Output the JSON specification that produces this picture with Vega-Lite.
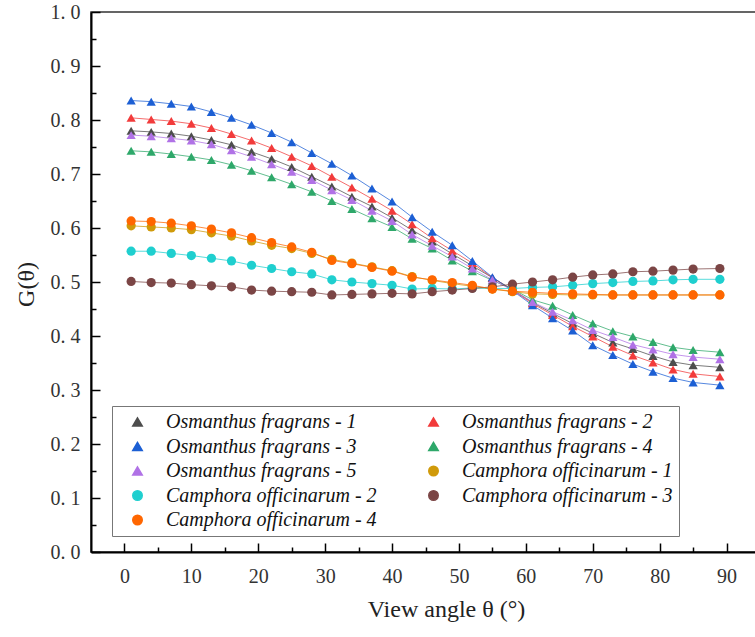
{
"$schema": "https://vega.github.io/schema/vega-lite/v6.json",
"width": 669, "height": 540,
"autosize": {"type": "none"},
"padding": {"left": 91, "top": 12, "right": 0, "bottom": 85},
"background": "white",
"config": {"view": {"stroke": "#333", "strokeWidth": 1.5}, "font": "Liberation Serif, Times New Roman, serif"},
"datasets": {"g": [
{"series":"Osmanthus fragrans - 1","angle":1,"G":0.780},{"series":"Osmanthus fragrans - 1","angle":4,"G":0.778},{"series":"Osmanthus fragrans - 1","angle":7,"G":0.775},{"series":"Osmanthus fragrans - 1","angle":10,"G":0.770},{"series":"Osmanthus fragrans - 1","angle":13,"G":0.763},{"series":"Osmanthus fragrans - 1","angle":16,"G":0.754},{"series":"Osmanthus fragrans - 1","angle":19,"G":0.741},{"series":"Osmanthus fragrans - 1","angle":22,"G":0.728},{"series":"Osmanthus fragrans - 1","angle":25,"G":0.713},{"series":"Osmanthus fragrans - 1","angle":28,"G":0.695},{"series":"Osmanthus fragrans - 1","angle":31,"G":0.677},{"series":"Osmanthus fragrans - 1","angle":34,"G":0.658},{"series":"Osmanthus fragrans - 1","angle":37,"G":0.640},{"series":"Osmanthus fragrans - 1","angle":40,"G":0.619},{"series":"Osmanthus fragrans - 1","angle":43,"G":0.596},{"series":"Osmanthus fragrans - 1","angle":46,"G":0.575},{"series":"Osmanthus fragrans - 1","angle":49,"G":0.552},{"series":"Osmanthus fragrans - 1","angle":52,"G":0.530},{"series":"Osmanthus fragrans - 1","angle":55,"G":0.508},{"series":"Osmanthus fragrans - 1","angle":58,"G":0.486},{"series":"Osmanthus fragrans - 1","angle":61,"G":0.462},{"series":"Osmanthus fragrans - 1","angle":64,"G":0.442},{"series":"Osmanthus fragrans - 1","angle":67,"G":0.423},{"series":"Osmanthus fragrans - 1","angle":70,"G":0.405},{"series":"Osmanthus fragrans - 1","angle":73,"G":0.388},{"series":"Osmanthus fragrans - 1","angle":76,"G":0.376},{"series":"Osmanthus fragrans - 1","angle":79,"G":0.363},{"series":"Osmanthus fragrans - 1","angle":82,"G":0.352},{"series":"Osmanthus fragrans - 1","angle":85,"G":0.346},{"series":"Osmanthus fragrans - 1","angle":89,"G":0.342},
{"series":"Osmanthus fragrans - 2","angle":1,"G":0.804},{"series":"Osmanthus fragrans - 2","angle":4,"G":0.801},{"series":"Osmanthus fragrans - 2","angle":7,"G":0.798},{"series":"Osmanthus fragrans - 2","angle":10,"G":0.793},{"series":"Osmanthus fragrans - 2","angle":13,"G":0.785},{"series":"Osmanthus fragrans - 2","angle":16,"G":0.774},{"series":"Osmanthus fragrans - 2","angle":19,"G":0.762},{"series":"Osmanthus fragrans - 2","angle":22,"G":0.748},{"series":"Osmanthus fragrans - 2","angle":25,"G":0.732},{"series":"Osmanthus fragrans - 2","angle":28,"G":0.715},{"series":"Osmanthus fragrans - 2","angle":31,"G":0.695},{"series":"Osmanthus fragrans - 2","angle":34,"G":0.675},{"series":"Osmanthus fragrans - 2","angle":37,"G":0.654},{"series":"Osmanthus fragrans - 2","angle":40,"G":0.632},{"series":"Osmanthus fragrans - 2","angle":43,"G":0.607},{"series":"Osmanthus fragrans - 2","angle":46,"G":0.581},{"series":"Osmanthus fragrans - 2","angle":49,"G":0.558},{"series":"Osmanthus fragrans - 2","angle":52,"G":0.535},{"series":"Osmanthus fragrans - 2","angle":55,"G":0.508},{"series":"Osmanthus fragrans - 2","angle":58,"G":0.485},{"series":"Osmanthus fragrans - 2","angle":61,"G":0.460},{"series":"Osmanthus fragrans - 2","angle":64,"G":0.439},{"series":"Osmanthus fragrans - 2","angle":67,"G":0.418},{"series":"Osmanthus fragrans - 2","angle":70,"G":0.399},{"series":"Osmanthus fragrans - 2","angle":73,"G":0.380},{"series":"Osmanthus fragrans - 2","angle":76,"G":0.364},{"series":"Osmanthus fragrans - 2","angle":79,"G":0.351},{"series":"Osmanthus fragrans - 2","angle":82,"G":0.338},{"series":"Osmanthus fragrans - 2","angle":85,"G":0.330},{"series":"Osmanthus fragrans - 2","angle":89,"G":0.325},
{"series":"Osmanthus fragrans - 3","angle":1,"G":0.836},{"series":"Osmanthus fragrans - 3","angle":4,"G":0.834},{"series":"Osmanthus fragrans - 3","angle":7,"G":0.830},{"series":"Osmanthus fragrans - 3","angle":10,"G":0.825},{"series":"Osmanthus fragrans - 3","angle":13,"G":0.815},{"series":"Osmanthus fragrans - 3","angle":16,"G":0.804},{"series":"Osmanthus fragrans - 3","angle":19,"G":0.791},{"series":"Osmanthus fragrans - 3","angle":22,"G":0.776},{"series":"Osmanthus fragrans - 3","angle":25,"G":0.759},{"series":"Osmanthus fragrans - 3","angle":28,"G":0.739},{"series":"Osmanthus fragrans - 3","angle":31,"G":0.719},{"series":"Osmanthus fragrans - 3","angle":34,"G":0.697},{"series":"Osmanthus fragrans - 3","angle":37,"G":0.673},{"series":"Osmanthus fragrans - 3","angle":40,"G":0.649},{"series":"Osmanthus fragrans - 3","angle":43,"G":0.620},{"series":"Osmanthus fragrans - 3","angle":46,"G":0.593},{"series":"Osmanthus fragrans - 3","angle":49,"G":0.568},{"series":"Osmanthus fragrans - 3","angle":52,"G":0.539},{"series":"Osmanthus fragrans - 3","angle":55,"G":0.509},{"series":"Osmanthus fragrans - 3","angle":58,"G":0.484},{"series":"Osmanthus fragrans - 3","angle":61,"G":0.457},{"series":"Osmanthus fragrans - 3","angle":64,"G":0.433},{"series":"Osmanthus fragrans - 3","angle":67,"G":0.410},{"series":"Osmanthus fragrans - 3","angle":70,"G":0.383},{"series":"Osmanthus fragrans - 3","angle":73,"G":0.365},{"series":"Osmanthus fragrans - 3","angle":76,"G":0.348},{"series":"Osmanthus fragrans - 3","angle":79,"G":0.334},{"series":"Osmanthus fragrans - 3","angle":82,"G":0.322},{"series":"Osmanthus fragrans - 3","angle":85,"G":0.314},{"series":"Osmanthus fragrans - 3","angle":89,"G":0.309},
{"series":"Osmanthus fragrans - 4","angle":1,"G":0.743},{"series":"Osmanthus fragrans - 4","angle":4,"G":0.741},{"series":"Osmanthus fragrans - 4","angle":7,"G":0.737},{"series":"Osmanthus fragrans - 4","angle":10,"G":0.732},{"series":"Osmanthus fragrans - 4","angle":13,"G":0.726},{"series":"Osmanthus fragrans - 4","angle":16,"G":0.717},{"series":"Osmanthus fragrans - 4","angle":19,"G":0.706},{"series":"Osmanthus fragrans - 4","angle":22,"G":0.694},{"series":"Osmanthus fragrans - 4","angle":25,"G":0.681},{"series":"Osmanthus fragrans - 4","angle":28,"G":0.667},{"series":"Osmanthus fragrans - 4","angle":31,"G":0.650},{"series":"Osmanthus fragrans - 4","angle":34,"G":0.635},{"series":"Osmanthus fragrans - 4","angle":37,"G":0.618},{"series":"Osmanthus fragrans - 4","angle":40,"G":0.602},{"series":"Osmanthus fragrans - 4","angle":43,"G":0.580},{"series":"Osmanthus fragrans - 4","angle":46,"G":0.562},{"series":"Osmanthus fragrans - 4","angle":49,"G":0.540},{"series":"Osmanthus fragrans - 4","angle":52,"G":0.520},{"series":"Osmanthus fragrans - 4","angle":55,"G":0.503},{"series":"Osmanthus fragrans - 4","angle":58,"G":0.487},{"series":"Osmanthus fragrans - 4","angle":61,"G":0.467},{"series":"Osmanthus fragrans - 4","angle":64,"G":0.456},{"series":"Osmanthus fragrans - 4","angle":67,"G":0.439},{"series":"Osmanthus fragrans - 4","angle":70,"G":0.423},{"series":"Osmanthus fragrans - 4","angle":73,"G":0.409},{"series":"Osmanthus fragrans - 4","angle":76,"G":0.399},{"series":"Osmanthus fragrans - 4","angle":79,"G":0.389},{"series":"Osmanthus fragrans - 4","angle":82,"G":0.379},{"series":"Osmanthus fragrans - 4","angle":85,"G":0.374},{"series":"Osmanthus fragrans - 4","angle":89,"G":0.370},
{"series":"Osmanthus fragrans - 5","angle":1,"G":0.772},{"series":"Osmanthus fragrans - 5","angle":4,"G":0.770},{"series":"Osmanthus fragrans - 5","angle":7,"G":0.766},{"series":"Osmanthus fragrans - 5","angle":10,"G":0.762},{"series":"Osmanthus fragrans - 5","angle":13,"G":0.755},{"series":"Osmanthus fragrans - 5","angle":16,"G":0.744},{"series":"Osmanthus fragrans - 5","angle":19,"G":0.732},{"series":"Osmanthus fragrans - 5","angle":22,"G":0.718},{"series":"Osmanthus fragrans - 5","angle":25,"G":0.704},{"series":"Osmanthus fragrans - 5","angle":28,"G":0.689},{"series":"Osmanthus fragrans - 5","angle":31,"G":0.670},{"series":"Osmanthus fragrans - 5","angle":34,"G":0.652},{"series":"Osmanthus fragrans - 5","angle":37,"G":0.632},{"series":"Osmanthus fragrans - 5","angle":40,"G":0.613},{"series":"Osmanthus fragrans - 5","angle":43,"G":0.588},{"series":"Osmanthus fragrans - 5","angle":46,"G":0.567},{"series":"Osmanthus fragrans - 5","angle":49,"G":0.547},{"series":"Osmanthus fragrans - 5","angle":52,"G":0.525},{"series":"Osmanthus fragrans - 5","angle":55,"G":0.504},{"series":"Osmanthus fragrans - 5","angle":58,"G":0.485},{"series":"Osmanthus fragrans - 5","angle":61,"G":0.463},{"series":"Osmanthus fragrans - 5","angle":64,"G":0.445},{"series":"Osmanthus fragrans - 5","angle":67,"G":0.429},{"series":"Osmanthus fragrans - 5","angle":70,"G":0.411},{"series":"Osmanthus fragrans - 5","angle":73,"G":0.398},{"series":"Osmanthus fragrans - 5","angle":76,"G":0.384},{"series":"Osmanthus fragrans - 5","angle":79,"G":0.375},{"series":"Osmanthus fragrans - 5","angle":82,"G":0.366},{"series":"Osmanthus fragrans - 5","angle":85,"G":0.361},{"series":"Osmanthus fragrans - 5","angle":89,"G":0.357},
{"series":"Camphora officinarum - 1","angle":1,"G":0.604},{"series":"Camphora officinarum - 1","angle":4,"G":0.602},{"series":"Camphora officinarum - 1","angle":7,"G":0.600},{"series":"Camphora officinarum - 1","angle":10,"G":0.597},{"series":"Camphora officinarum - 1","angle":13,"G":0.591},{"series":"Camphora officinarum - 1","angle":16,"G":0.585},{"series":"Camphora officinarum - 1","angle":19,"G":0.576},{"series":"Camphora officinarum - 1","angle":22,"G":0.568},{"series":"Camphora officinarum - 1","angle":25,"G":0.562},{"series":"Camphora officinarum - 1","angle":28,"G":0.553},{"series":"Camphora officinarum - 1","angle":31,"G":0.542},{"series":"Camphora officinarum - 1","angle":34,"G":0.535},{"series":"Camphora officinarum - 1","angle":37,"G":0.528},{"series":"Camphora officinarum - 1","angle":40,"G":0.521},{"series":"Camphora officinarum - 1","angle":43,"G":0.510},{"series":"Camphora officinarum - 1","angle":46,"G":0.503},{"series":"Camphora officinarum - 1","angle":49,"G":0.497},{"series":"Camphora officinarum - 1","angle":52,"G":0.492},{"series":"Camphora officinarum - 1","angle":55,"G":0.487},{"series":"Camphora officinarum - 1","angle":58,"G":0.482},{"series":"Camphora officinarum - 1","angle":61,"G":0.478},{"series":"Camphora officinarum - 1","angle":64,"G":0.477},{"series":"Camphora officinarum - 1","angle":67,"G":0.476},{"series":"Camphora officinarum - 1","angle":70,"G":0.476},{"series":"Camphora officinarum - 1","angle":73,"G":0.476},{"series":"Camphora officinarum - 1","angle":76,"G":0.476},{"series":"Camphora officinarum - 1","angle":79,"G":0.476},{"series":"Camphora officinarum - 1","angle":82,"G":0.476},{"series":"Camphora officinarum - 1","angle":85,"G":0.476},{"series":"Camphora officinarum - 1","angle":89,"G":0.476},
{"series":"Camphora officinarum - 2","angle":1,"G":0.557},{"series":"Camphora officinarum - 2","angle":4,"G":0.557},{"series":"Camphora officinarum - 2","angle":7,"G":0.553},{"series":"Camphora officinarum - 2","angle":10,"G":0.549},{"series":"Camphora officinarum - 2","angle":13,"G":0.544},{"series":"Camphora officinarum - 2","angle":16,"G":0.539},{"series":"Camphora officinarum - 2","angle":19,"G":0.531},{"series":"Camphora officinarum - 2","angle":22,"G":0.525},{"series":"Camphora officinarum - 2","angle":25,"G":0.519},{"series":"Camphora officinarum - 2","angle":28,"G":0.515},{"series":"Camphora officinarum - 2","angle":31,"G":0.504},{"series":"Camphora officinarum - 2","angle":34,"G":0.500},{"series":"Camphora officinarum - 2","angle":37,"G":0.497},{"series":"Camphora officinarum - 2","angle":40,"G":0.494},{"series":"Camphora officinarum - 2","angle":43,"G":0.487},{"series":"Camphora officinarum - 2","angle":46,"G":0.488},{"series":"Camphora officinarum - 2","angle":49,"G":0.487},{"series":"Camphora officinarum - 2","angle":52,"G":0.489},{"series":"Camphora officinarum - 2","angle":55,"G":0.488},{"series":"Camphora officinarum - 2","angle":58,"G":0.488},{"series":"Camphora officinarum - 2","angle":61,"G":0.490},{"series":"Camphora officinarum - 2","angle":64,"G":0.491},{"series":"Camphora officinarum - 2","angle":67,"G":0.494},{"series":"Camphora officinarum - 2","angle":70,"G":0.497},{"series":"Camphora officinarum - 2","angle":73,"G":0.499},{"series":"Camphora officinarum - 2","angle":76,"G":0.501},{"series":"Camphora officinarum - 2","angle":79,"G":0.502},{"series":"Camphora officinarum - 2","angle":82,"G":0.504},{"series":"Camphora officinarum - 2","angle":85,"G":0.505},{"series":"Camphora officinarum - 2","angle":89,"G":0.505},
{"series":"Camphora officinarum - 3","angle":1,"G":0.501},{"series":"Camphora officinarum - 3","angle":4,"G":0.499},{"series":"Camphora officinarum - 3","angle":7,"G":0.498},{"series":"Camphora officinarum - 3","angle":10,"G":0.495},{"series":"Camphora officinarum - 3","angle":13,"G":0.493},{"series":"Camphora officinarum - 3","angle":16,"G":0.491},{"series":"Camphora officinarum - 3","angle":19,"G":0.485},{"series":"Camphora officinarum - 3","angle":22,"G":0.483},{"series":"Camphora officinarum - 3","angle":25,"G":0.482},{"series":"Camphora officinarum - 3","angle":28,"G":0.481},{"series":"Camphora officinarum - 3","angle":31,"G":0.476},{"series":"Camphora officinarum - 3","angle":34,"G":0.477},{"series":"Camphora officinarum - 3","angle":37,"G":0.478},{"series":"Camphora officinarum - 3","angle":40,"G":0.479},{"series":"Camphora officinarum - 3","angle":43,"G":0.478},{"series":"Camphora officinarum - 3","angle":46,"G":0.482},{"series":"Camphora officinarum - 3","angle":49,"G":0.485},{"series":"Camphora officinarum - 3","angle":52,"G":0.488},{"series":"Camphora officinarum - 3","angle":55,"G":0.491},{"series":"Camphora officinarum - 3","angle":58,"G":0.496},{"series":"Camphora officinarum - 3","angle":61,"G":0.500},{"series":"Camphora officinarum - 3","angle":64,"G":0.504},{"series":"Camphora officinarum - 3","angle":67,"G":0.509},{"series":"Camphora officinarum - 3","angle":70,"G":0.513},{"series":"Camphora officinarum - 3","angle":73,"G":0.515},{"series":"Camphora officinarum - 3","angle":76,"G":0.519},{"series":"Camphora officinarum - 3","angle":79,"G":0.520},{"series":"Camphora officinarum - 3","angle":82,"G":0.522},{"series":"Camphora officinarum - 3","angle":85,"G":0.524},{"series":"Camphora officinarum - 3","angle":89,"G":0.525},
{"series":"Camphora officinarum - 4","angle":1,"G":0.613},{"series":"Camphora officinarum - 4","angle":4,"G":0.612},{"series":"Camphora officinarum - 4","angle":7,"G":0.609},{"series":"Camphora officinarum - 4","angle":10,"G":0.604},{"series":"Camphora officinarum - 4","angle":13,"G":0.598},{"series":"Camphora officinarum - 4","angle":16,"G":0.591},{"series":"Camphora officinarum - 4","angle":19,"G":0.582},{"series":"Camphora officinarum - 4","angle":22,"G":0.573},{"series":"Camphora officinarum - 4","angle":25,"G":0.565},{"series":"Camphora officinarum - 4","angle":28,"G":0.555},{"series":"Camphora officinarum - 4","angle":31,"G":0.540},{"series":"Camphora officinarum - 4","angle":34,"G":0.534},{"series":"Camphora officinarum - 4","angle":37,"G":0.527},{"series":"Camphora officinarum - 4","angle":40,"G":0.520},{"series":"Camphora officinarum - 4","angle":43,"G":0.509},{"series":"Camphora officinarum - 4","angle":46,"G":0.504},{"series":"Camphora officinarum - 4","angle":49,"G":0.499},{"series":"Camphora officinarum - 4","angle":52,"G":0.494},{"series":"Camphora officinarum - 4","angle":55,"G":0.487},{"series":"Camphora officinarum - 4","angle":58,"G":0.483},{"series":"Camphora officinarum - 4","angle":61,"G":0.481},{"series":"Camphora officinarum - 4","angle":64,"G":0.479},{"series":"Camphora officinarum - 4","angle":67,"G":0.478},{"series":"Camphora officinarum - 4","angle":70,"G":0.477},{"series":"Camphora officinarum - 4","angle":73,"G":0.476},{"series":"Camphora officinarum - 4","angle":76,"G":0.476},{"series":"Camphora officinarum - 4","angle":79,"G":0.476},{"series":"Camphora officinarum - 4","angle":82,"G":0.476},{"series":"Camphora officinarum - 4","angle":85,"G":0.476},{"series":"Camphora officinarum - 4","angle":89,"G":0.476}
]},
"data": {"name": "g"},
"encoding": {
  "color": {"field": "series", "type": "nominal",
    "scale": {"domain": ["Osmanthus fragrans - 1","Osmanthus fragrans - 2","Osmanthus fragrans - 3","Osmanthus fragrans - 4","Osmanthus fragrans - 5","Camphora officinarum - 1","Camphora officinarum - 2","Camphora officinarum - 3","Camphora officinarum - 4"],
      "range": ["#4d4d4d","#f23b3b","#1c5fd4","#2ea86a","#b072e6","#d09a0a","#1fcfcf","#7b4545","#ff6600"]},
    "legend": {"title": null, "orient": "none", "legendX": 21, "legendY": 394, "columns": 2, "direction": "horizontal",
      "labelFont": "Liberation Serif, Times New Roman, serif", "labelFontStyle": "italic", "labelFontSize": 20, "labelColor": "#111", "labelLimit": 400,
      "symbolSize": 90, "symbolOffset": 9.5, "labelOffset": 18.5, "rowPadding": 4.5, "columnPadding": 37,
      "padding": 6, "strokeColor": "#777", "fillColor": "white"}}
},
"layer": [
  {"mark": {"type": "line", "strokeWidth": 1, "strokeOpacity": 0.75},
   "encoding": {
     "x": {"field": "angle", "type": "quantitative", "scale": {"domain": [-5, 95], "nice": false, "zero": false},
       "axis": {"orient": "bottom", "values": [5,15,25,35,45,55,65,75,85], "labels": false, "domain": false, "grid": false, "title": null, "tickSize": -5, "tickWidth": 1.5, "tickColor": "#000"}},
     "y": {"field": "G", "type": "quantitative", "scale": {"domain": [0, 1], "nice": false, "zero": false},
       "axis": {"orient": "left", "values": [0.05,0.15,0.25,0.35,0.45,0.55,0.65,0.75,0.85,0.95], "labels": false, "domain": false, "grid": false, "title": null, "tickSize": -5, "tickWidth": 1.5, "tickColor": "#000"}}
   }},
  {"mark": {"type": "point", "filled": true, "size": 85, "opacity": 1},
   "encoding": {
     "x": {"field": "angle", "type": "quantitative",
       "axis": {"orient": "bottom", "values": [0,10,20,30,40,50,60,70,80,90], "grid": false, "title": "View angle θ (°)",
         "titleFont": "Liberation Serif, Times New Roman, serif", "titleFontSize": 24, "titleFontWeight": "normal", "titleColor": "#222",
         "titleX": 355, "titleY": 64, "titleBaseline": "alphabetic", "titleAlign": "center",
         "labelFont": "Liberation Serif, Times New Roman, serif", "labelFontSize": 20, "labelColor": "#333", "labelPadding": 23, "labelFlush": false,
         "tickSize": -9, "tickWidth": 1.5, "tickColor": "#000", "domainColor": "#000", "domainWidth": 2}},
     "y": {"field": "G", "type": "quantitative",
       "axis": {"orient": "left", "values": [0,0.1,0.2,0.3,0.4,0.5,0.6,0.7,0.8,0.9,1], "grid": false, "title": "G(θ)",
         "labelExpr": "replace(format(datum.value,'.1f'),'.','. ')",
         "titleFont": "Liberation Serif, Times New Roman, serif", "titleFontSize": 24, "titleFontWeight": "normal", "titleColor": "#222",
         "titleX": -58, "titleY": 272, "titleBaseline": "alphabetic", "titleAlign": "center", "titleAngle": -90,
         "labelFont": "Liberation Serif, Times New Roman, serif", "labelFontSize": 20, "labelColor": "#333", "labelPadding": 20, "labelFlush": false,
         "tickSize": -9, "tickWidth": 1.5, "tickColor": "#000", "domainColor": "#000", "domainWidth": 2}},
     "shape": {"field": "series", "type": "nominal", "legend": null,
       "scale": {"domain": ["Osmanthus fragrans - 1","Osmanthus fragrans - 2","Osmanthus fragrans - 3","Osmanthus fragrans - 4","Osmanthus fragrans - 5","Camphora officinarum - 1","Camphora officinarum - 2","Camphora officinarum - 3","Camphora officinarum - 4"],
         "range": ["triangle-up","triangle-up","triangle-up","triangle-up","triangle-up","circle","circle","circle","circle"]}}
   }}
],
"resolve": {"axis": {"x": "independent", "y": "independent"}}
}
